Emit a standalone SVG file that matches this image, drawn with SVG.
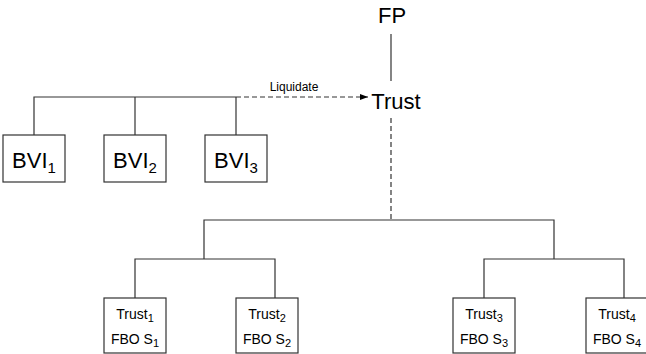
<svg xmlns="http://www.w3.org/2000/svg" width="646" height="354" viewBox="0 0 646 354">
  <style>
    text { font-family: "Liberation Sans", Arial, sans-serif; fill: #000; }
    .big { font-size: 22px; }
    .small { font-size: 14px; }
    .lbl { font-size: 12px; }
    .sub { font-size: 11px; }
    .box { fill: #fff; stroke: #333; stroke-width: 1.2; }
    .ln { fill: none; stroke: #333; stroke-width: 1.2; }
    .dash { fill: none; stroke: #333; stroke-width: 1.2; stroke-dasharray: 5 3; }
  </style>
  <defs>
    <marker id="arrow" viewBox="0 0 8 6" refX="8" refY="3" markerWidth="8" markerHeight="6" markerUnits="userSpaceOnUse" orient="auto">
      <path d="M0,0 L8,3 L0,6 Z" fill="#000"/>
    </marker>
  </defs>

  <!-- connectors -->
  <g id="connectors">
    <line class="ln" x1="391" y1="34" x2="391" y2="81"/>
    <polyline class="ln" points="34,135 34,97 236,97"/>
    <line class="ln" x1="135" y1="97" x2="135" y2="135"/>
    <line class="ln" x1="236" y1="97" x2="236" y2="135"/>
    <line class="dash" x1="236" y1="97" x2="368" y2="97" marker-end="url(#arrow)"/>
    <line class="dash" x1="391" y1="118" x2="391" y2="220"/>
    <polyline class="ln" points="204,259 204,220 554,220 554,259"/>
    <polyline class="ln" points="135,298 135,259 275,259 275,298"/>
    <polyline class="ln" points="484,298 484,259 624,259 624,298"/>
  </g>
  <text class="lbl" x="294" y="91" text-anchor="middle">Liquidate</text>

  <g id="fp">
    <text class="big" x="392" y="23" text-anchor="middle">FP</text>
  </g>
  <g id="trust">
    <text class="big" x="396" y="109" text-anchor="middle">Trust</text>
  </g>

  <g id="bvi1">
    <rect class="box" x="3" y="135" width="62" height="47"/>
    <text class="big" x="34" y="168" text-anchor="middle">BVI<tspan font-size="15" dy="5">1</tspan></text>
  </g>
  <g id="bvi2">
    <rect class="box" x="104" y="135" width="62" height="47"/>
    <text class="big" x="135" y="168" text-anchor="middle">BVI<tspan font-size="15" dy="5">2</tspan></text>
  </g>
  <g id="bvi3">
    <rect class="box" x="205" y="135" width="62" height="47"/>
    <text class="big" x="236" y="168" text-anchor="middle">BVI<tspan font-size="15" dy="5">3</tspan></text>
  </g>

  <g id="trust1">
    <rect class="box" x="104" y="298" width="62" height="55"/>
    <text class="small" x="135" y="319" text-anchor="middle">Trust<tspan class="sub" dy="3">1</tspan></text>
    <text class="small" x="135" y="344" text-anchor="middle">FBO S<tspan class="sub" dy="3">1</tspan></text>
  </g>
  <g id="trust2">
    <rect class="box" x="236" y="298" width="62" height="55"/>
    <text class="small" x="267" y="319" text-anchor="middle">Trust<tspan class="sub" dy="3">2</tspan></text>
    <text class="small" x="267" y="344" text-anchor="middle">FBO S<tspan class="sub" dy="3">2</tspan></text>
  </g>
  <g id="trust3">
    <rect class="box" x="453" y="298" width="62" height="55"/>
    <text class="small" x="484" y="319" text-anchor="middle">Trust<tspan class="sub" dy="3">3</tspan></text>
    <text class="small" x="484" y="344" text-anchor="middle">FBO S<tspan class="sub" dy="3">3</tspan></text>
  </g>
  <g id="trust4">
    <rect class="box" x="586" y="298" width="62" height="55"/>
    <text class="small" x="617" y="319" text-anchor="middle">Trust<tspan class="sub" dy="3">4</tspan></text>
    <text class="small" x="617" y="344" text-anchor="middle">FBO S<tspan class="sub" dy="3">4</tspan></text>
  </g>
</svg>
